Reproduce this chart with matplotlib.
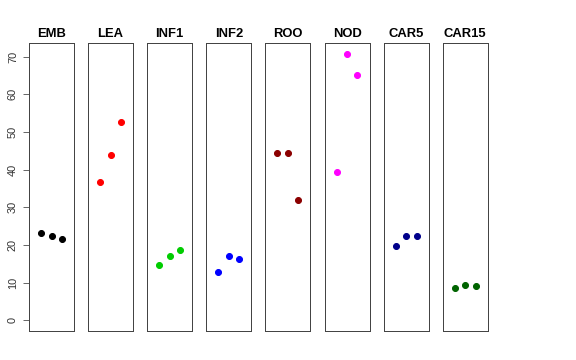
import matplotlib
matplotlib.use("Agg")
import matplotlib.pyplot as plt

plt.rcParams["font.family"] = ["Liberation Sans", "DejaVu Sans"]

tissues = ["EMB", "LEA", "INF1", "INF2", "ROO", "NOD", "CAR5", "CAR15"]
colors = ["black", "red", "#00CD00", "blue", "#8B0000", "magenta", "#00008B", "#006400"]
reps = [1, 2, 3]

emb = [23.1, 22.4, 21.5]
lea = [36.8, 43.9, 52.7]
inf1 = [14.7, 17.2, 18.6]
inf2 = [12.9, 17.2, 16.2]
roo = [44.3, 44.3, 32.0]
nod = [39.4, 70.8, 65.2]
car5 = [19.7, 22.4, 22.4]
car15 = [8.5, 9.5, 9.2]
values = [emb, lea, inf1, inf2, roo, nod, car5, car15]

W, H = 576, 360
fig = plt.figure(figsize=(W / 72, H / 72), dpi=72)

ymin, ymax = 0, 70.8
pad = 0.04 * (ymax - ymin)

for i, (name, col, vals) in enumerate(zip(tissues, colors, values)):
    left = 29 + i * 59.1
    ax = fig.add_axes([left / W, (H - 331) / H, 45 / W, 288 / H])
    ax.plot(reps, vals, "o", color=col, markersize=6, linestyle="none")
    ax.set_xlim(-0.16, 4.16)
    ax.set_ylim(ymin - pad, ymax + pad)
    ax.set_xticks([])
    for sp in ax.spines.values():
        sp.set_color("#444444")
        sp.set_linewidth(1)
    ax.set_title(name, fontsize=13, fontweight="bold", pad=6)
    if i == 0:
        ax.set_yticks(range(0, 71, 10))
        ax.tick_params(axis="y", length=6, labelsize=11, colors="#444444",
                       labelcolor="#333333", pad=5)
        for lab in ax.get_yticklabels():
            lab.set_rotation(90)
            lab.set_va("center")
    else:
        ax.set_yticks([])

fig.savefig("out.png", dpi=72)
